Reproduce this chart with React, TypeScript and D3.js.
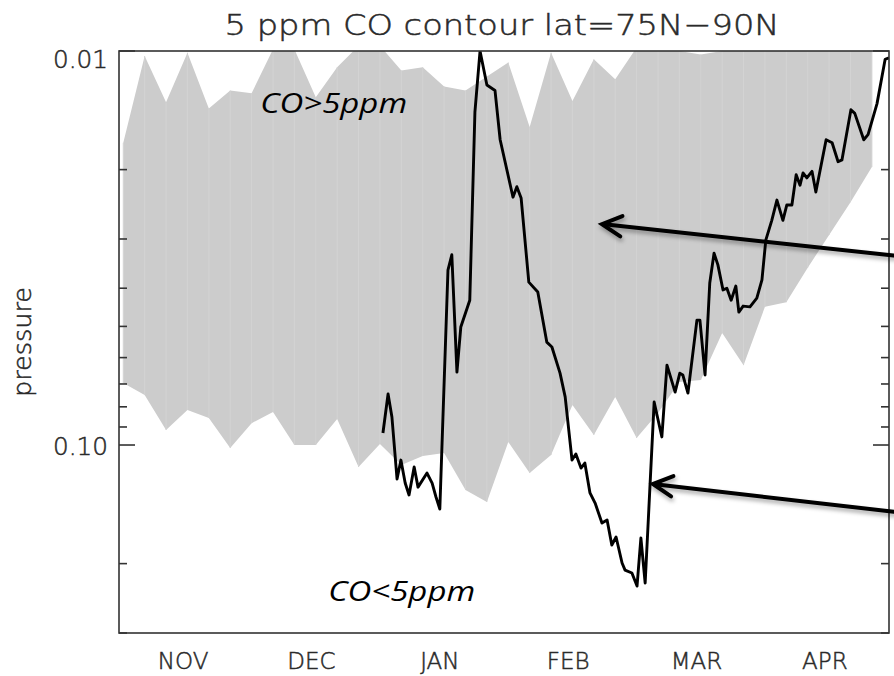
import React from "react";
import * as d3 from "d3";

// ---- data ----
const monthLabels = ["NOV", "DEC", "JAN", "FEB", "MAR", "APR"];
const monthLabelDays = [15, 45, 75, 105, 135, 165];

// 5-day sampled contour band (days since Nov 1)
const bandDays = [1, 6, 11, 16, 21, 26, 31, 36, 41, 46, 51, 56, 61, 66, 71, 76, 81, 86, 91, 96, 101, 106, 111, 116, 121, 126, 131, 136, 141, 146, 151, 156, 161, 166, 171, 176];
const bandTop = [0.0171, 0.0103, 0.0135, 0.0101, 0.014, 0.0126, 0.0128, 0.0099, 0.0099, 0.0131, 0.011, 0.0097, 0.0097, 0.0112, 0.011, 0.0123, 0.0126, 0.0116, 0.0107, 0.0156, 0.0101, 0.0134, 0.0105, 0.0118, 0.0098, 0.0095, 0.01, 0.0102, 0.01, 0.0095, 0.0095, 0.0095, 0.0095, 0.0095, 0.0095, 0.0095];
const bandBottom = [0.0696, 0.0747, 0.0916, 0.0815, 0.0854, 0.1018, 0.088, 0.0825, 0.1, 0.1, 0.0859, 0.1137, 0.0994, 0.1124, 0.1066, 0.1048, 0.1301, 0.1395, 0.0983, 0.1178, 0.106, 0.0792, 0.0943, 0.0755, 0.096, 0.0829, 0.0692, 0.0684, 0.052, 0.0627, 0.0446, 0.0434, 0.0355, 0.0293, 0.0242, 0.0197];

// black curve
const lineDays = [61.7, 62.9, 63.8, 65.0, 65.9, 66.9, 67.8, 69.0, 69.9, 72.0,
  73.2, 74.1, 75.0, 76.9, 77.8, 79.0, 79.9, 82.0, 83.2, 84.4,
  86.0, 87.9, 89.1, 92.1, 93.0, 94.0, 95.8, 97.9, 100.0, 101.2,
  103.1, 104.3, 105.9, 106.8, 108.0, 108.9, 110.1, 111.3, 112.9, 114.1,
  115.2, 116.2, 117.6, 118.3, 119.9, 121.1, 122.0, 123.0, 125.1, 126.9,
  128.1, 130.0, 131.1, 131.8, 133.0, 135.1, 135.8, 137.0, 138.1, 139.1,
  140.0, 141.2, 142.1, 143.1, 144.2, 144.9, 145.9, 147.5, 149.1, 150.3,
  151.2, 152.6, 153.8, 155.2, 156.1, 157.3, 158.3, 159.2, 159.9, 160.8,
  162.0, 162.9, 165.3, 166.7, 168.1, 169.0, 171.1, 172.0, 174.1, 175.1,
  177.2, 179.1, 180.0];
const linePressure = [0.0932, 0.0742, 0.0849, 0.122, 0.1092, 0.1249, 0.1339, 0.1137, 0.1279, 0.1178,
  0.1249, 0.1355, 0.1454, 0.036, 0.0329, 0.0653, 0.0502, 0.0429, 0.0143, 0.01,
  0.0122, 0.0126, 0.0168, 0.0235, 0.0221, 0.0236, 0.0386, 0.0409, 0.0548, 0.0564,
  0.0657, 0.0755, 0.1092, 0.1054, 0.1144, 0.1111, 0.1323, 0.1404, 0.1578, 0.155,
  0.1794, 0.1712, 0.1993, 0.2077, 0.2113, 0.228, 0.1722, 0.224, 0.0778, 0.0954,
  0.0627, 0.0734, 0.0657, 0.0664, 0.0738, 0.0482, 0.0482, 0.0664, 0.0388, 0.0326,
  0.0349, 0.0404, 0.04, 0.0429, 0.0395, 0.046, 0.0444, 0.0446, 0.0424, 0.0381,
  0.0302, 0.0269, 0.0239, 0.0269, 0.0246, 0.0246, 0.0206, 0.0219, 0.0204, 0.021,
  0.0202, 0.0228, 0.0168, 0.0171, 0.0191, 0.0189, 0.0141, 0.0144, 0.0168, 0.0163,
  0.0136, 0.0105, 0.0104];

const yTickLabels = ["0.01", "0.10"];
const yTickValues = [0.01, 0.1];

// annotation arrows
const arrowTipDays = [112.9, 124.8];
const arrowTipP = [0.0275, 0.1256];
const arrowTailDays = [181.6, 181.6];
const arrowTailP = [0.0331, 0.1479];

const annoTexts = ["CO>5ppm", "CO<5ppm"];
const annoDays = [33.0, 48.9];
const annoP = [0.01436, 0.249];

const W = 894, H = 676;
const L = 119, R = 889, T = 51, B = 633;

export default function App() {
  const x = d3.scaleLinear().domain([0, 180]).range([L, R]);
  const y = d3.scaleLog().domain([0.01, 0.3]).range([T, B]);

  const band = bandDays.map((d, i) => ({ d, top: bandTop[i], bot: bandBottom[i] }));
  const areaGen = d3.area<any>().x((p) => x(p.d)).y0((p) => y(p.bot)).y1((p) => y(p.top));
  const linePts = lineDays.map((d, i) => [d, linePressure[i]] as [number, number]);
  const lineGen = d3.line<[number, number]>().x((p) => x(p[0])).y((p) => y(p[1]));

  const minor: number[] = [];
  [0.01, 0.1].forEach((dec) => {
    for (let k = 2; k <= 9; k++) {
      const v = dec * k;
      if (v <= 0.3 + 1e-9) minor.push(v);
    }
  });

  const txt = "'DejaVu Sans', sans-serif";
  const tStyle = { fontFamily: txt, fontWeight: 200, fill: "#2a2a2a", stroke: "#2a2a2a", strokeWidth: 0.5 } as any;

  const arrows = arrowTipDays.map((_, i) => {
    const tx = x(arrowTipDays[i]), ty = y(arrowTipP[i]);
    const ex = x(arrowTailDays[i]), ey = y(arrowTailP[i]);
    const ang = Math.atan2(ey - ty, ex - tx);
    const len = 22, spread = 0.48;
    const p = d3.path();
    p.moveTo(ex, ey);
    p.lineTo(tx, ty);
    const head = d3.path();
    head.moveTo(tx + len * Math.cos(ang - spread), ty + len * Math.sin(ang - spread));
    head.lineTo(tx, ty);
    head.lineTo(tx + len * Math.cos(ang + spread), ty + len * Math.sin(ang + spread));
    return { shaft: p.toString(), head: head.toString() };
  });

  return (
    <svg width={W} height={H} style={{ position: "absolute", left: 0, top: 0, background: "#fff" }}>
      <defs>
        <clipPath id="plot">
          <rect x={L} y={T} width={R - L} height={B - T} />
        </clipPath>
        <filter id="shadow" x="-10%" y="-50%" width="120%" height="200%">
          <feDropShadow dx="1" dy="3" stdDeviation="2" floodColor="#000" floodOpacity="0.35" />
        </filter>
      </defs>
      <rect x={0} y={0} width={W} height={H} fill="#fff" />
      <g clipPath="url(#plot)">
        <path d={areaGen(band) || ""} fill="#cccccc" />
        {band.map((p, i) => (
          <line key={i} x1={x(p.d)} x2={x(p.d)} y1={y(p.top)} y2={y(p.bot)} stroke="#d3d3d3" strokeWidth={1} />
        ))}
        <path d={lineGen(linePts) || ""} fill="none" stroke="#000" strokeWidth={2.9} strokeLinejoin="round" />
      </g>
      {/* frame */}
      <rect x={L} y={T} width={R - L} height={B - T} fill="none" stroke="#333" strokeWidth={1.6} />
      {/* y ticks */}
      {yTickValues.map((v) => (
        <g key={"M" + v}>
          <line x1={L} x2={L + 16} y1={y(v)} y2={y(v)} stroke="#333" strokeWidth={1.6} />
          <line x1={R - 16} x2={R} y1={y(v)} y2={y(v)} stroke="#333" strokeWidth={1.6} />
        </g>
      ))}
      {minor.map((v) => (
        <g key={"m" + v}>
          <line x1={L} x2={L + 8} y1={y(v)} y2={y(v)} stroke="#333" strokeWidth={1.6} />
          <line x1={R - 8} x2={R} y1={y(v)} y2={y(v)} stroke="#333" strokeWidth={1.6} />
        </g>
      ))}
      {yTickValues.map((v, i) => (
        <text key={"l" + v} x={108} y={y(v) + (i === 0 ? 17 : 10)} textAnchor="end" fontSize={24} textLength={55} lengthAdjust="spacingAndGlyphs" {...tStyle}>
          {yTickLabels[i]}
        </text>
      ))}
      {monthLabels.map((m, i) => (
        <text key={m} x={x(monthLabelDays[i])} y={669} textAnchor="middle" fontSize={23} {...tStyle}>
          {m}
        </text>
      ))}
      <text x={502} y={35} textAnchor="middle" fontSize={29} textLength={555} lengthAdjust="spacingAndGlyphs" {...tStyle}>
        5 ppm CO contour lat=75N−90N
      </text>
      <text transform={`translate(31,342) rotate(-90)`} textAnchor="middle" fontSize={25} textLength={110} lengthAdjust="spacingAndGlyphs" {...tStyle}>
        pressure
      </text>
      {annoTexts.map((t, i) => (
        <text key={t} x={x(annoDays[i])} y={y(annoP[i])} fontFamily="'Open Sans', sans-serif" fontStyle="italic" fontSize={28} fill="#000" textLength={147} lengthAdjust="spacingAndGlyphs">
          {t}
        </text>
      ))}
      {arrows.map((a, i) => (
        <g key={i} filter="url(#shadow)">
          <path d={a.shaft} stroke="#000" strokeWidth={4} fill="none" />
          <path d={a.head} stroke="#000" strokeWidth={4} fill="none" strokeLinecap="round" strokeLinejoin="miter" />
        </g>
      ))}
    </svg>
  );
}
